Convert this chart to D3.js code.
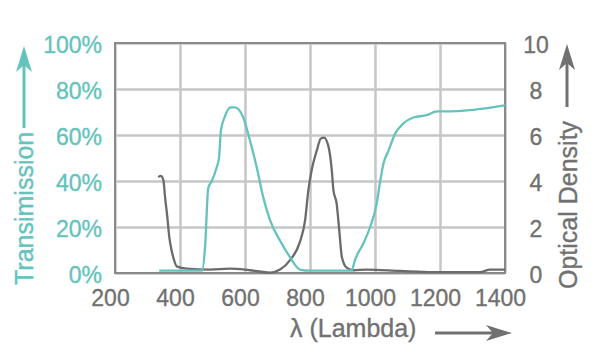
<!DOCTYPE html>
<html>
<head>
<meta charset="utf-8">
<script src="https://cdn.jsdelivr.net/npm/d3@7"></script>
<style>
  html, body { margin: 0; padding: 0; background: #fff; }
  svg { display: block; font-family: "Liberation Sans", Arial, sans-serif; }
</style>
</head>
<body>
<svg id="chart" width="600" height="360"></svg>
<script>
// ---- data ----
const xTicks = [200, 400, 600, 800, 1000, 1200, 1400];
const transTicks = [0, 20, 40, 60, 80, 100];
const odTicks = [0, 2, 4, 6, 8, 10];

const transWavelength = [336, 400, 468, 477, 487, 498, 513, 520, 526, 538, 556, 569, 595, 615, 636, 656, 677, 708, 738, 769, 800, 850, 900, 928, 938, 964, 985, 1005, 1015, 1026, 1041, 1062, 1087, 1118, 1159, 1190, 1231, 1282, 1333, 1400];
const transmission   = [1, 1, 1, 11, 37, 40, 46, 50, 62, 68, 72, 72, 67.5, 57.7, 46, 33, 23, 14, 7, 1.5, 1, 1, 1, 1, 5.5, 12.8, 20, 30, 39, 47.6, 53, 60.6, 65, 67.6, 68.6, 70.3, 70.3, 70.7, 71.5, 72.9];

const odWavelength = [333, 341, 349, 354, 361, 367, 374, 382, 390, 421, 492, 554, 615, 677, 708, 738, 769, 785, 795, 805, 821, 833, 843, 856, 867, 872, 882, 890, 898, 913, 933, 974, 1077, 1179, 1323, 1354, 1400];
const opticalDensity = [4.17, 4.22, 4.03, 3.3, 2.43, 1.57, 0.99, 0.55, 0.29, 0.19, 0.15, 0.19, 0.12, 0.02, 0.15, 0.55, 1.35, 2.3, 3.6, 4.47, 5.33, 5.84, 5.89, 5.55, 4.47, 3.6, 3.02, 1.86, 0.7, 0.23, 0.12, 0.15, 0.09, 0.04, 0.04, 0.15, 0.15];

// ---- layout ----
const teal = "#64c3bd";
const grayText = "#717171";
const margin = { left: 115, top: 43, right: 95, bottom: 87 };
const W = 600, H = 360;
const innerW = W - margin.left - margin.right;
const innerH = H - margin.top - margin.bottom;

const svg = d3.select("#chart");
const g = svg.append("g").attr("transform", `translate(${margin.left},${margin.top})`);

const x = d3.scaleLinear().domain([200, 1400]).range([0, innerW]);
const yT = d3.scaleLinear().domain([0, 100]).range([innerH, 0]);
const yOD = d3.scaleLinear().domain([0, 10]).range([innerH, 0]);

// gridlines
g.append("g").attr("class", "gridx")
  .attr("transform", `translate(0,${innerH})`)
  .call(d3.axisBottom(x).tickValues(xTicks).tickSize(-innerH).tickFormat(""))
  .call(s => s.select(".domain").remove())
  .call(s => s.selectAll("line").attr("stroke", "#c6c6c6").attr("stroke-width", 2.5));
g.append("g").attr("class", "gridy")
  .call(d3.axisLeft(yT).tickValues(transTicks).tickSize(-innerW).tickFormat(""))
  .call(s => s.select(".domain").remove())
  .call(s => s.selectAll("line").attr("stroke", "#c6c6c6").attr("stroke-width", 2.5));

// frame
g.append("rect").attr("x", 0).attr("y", 0).attr("width", innerW).attr("height", innerH)
  .attr("fill", "none").attr("stroke", "#8a8a8a").attr("stroke-width", 2);

// axes labels
const xAxis = g.append("g")
  .attr("transform", `translate(0,${innerH})`)
  .call(d3.axisBottom(x).tickValues(xTicks).tickSize(0).tickPadding(0).tickFormat(d3.format("d")));
xAxis.select(".domain").remove();
xAxis.selectAll("text").attr("fill", grayText).attr("stroke", grayText).attr("stroke-width", 0.35)
  .attr("font-size", 23).attr("dx", -5).attr("y", 17).attr("dy", "0.71em");

const yAxisL = g.append("g")
  .call(d3.axisLeft(yT).tickValues(transTicks).tickSize(0).tickPadding(13).tickFormat(d => d + "%"));
yAxisL.select(".domain").remove();
yAxisL.selectAll("text").attr("fill", teal).attr("stroke", teal).attr("stroke-width", 0.35)
  .attr("font-size", 23).attr("dy", "0.42em");

const yAxisR = g.append("g")
  .attr("transform", `translate(${innerW},0)`)
  .call(d3.axisRight(yOD).tickValues(odTicks).tickSize(0).tickPadding(31).tickFormat(d3.format("d")));
yAxisR.select(".domain").remove();
yAxisR.selectAll("text").attr("fill", grayText).attr("stroke", grayText).attr("stroke-width", 0.35)
  .attr("font-size", 23).attr("dy", "0.42em").attr("text-anchor", "middle");

// curves
const lineT = d3.line().x((d, i) => x(transWavelength[i])).y(d => yT(d)).curve(d3.curveMonotoneX);
const lineOD = d3.line().x((d, i) => x(odWavelength[i])).y(d => yOD(d)).curve(d3.curveMonotoneX);

g.append("path").datum(opticalDensity).attr("d", lineOD)
  .attr("fill", "none").attr("stroke", "#6b6b6b").attr("stroke-width", 2.3).attr("stroke-linejoin", "round");
g.append("path").datum(transmission).attr("d", lineT)
  .attr("fill", "none").attr("stroke", teal).attr("stroke-width", 2.3).attr("stroke-linejoin", "round");

// axis titles with arrows
function arrowHead(color, tx, ty, angle) {
  svg.append("path")
    .attr("d", "M0,0 L-26,-8 L-19,0 L-26,8 Z")
    .attr("transform", `translate(${tx},${ty}) rotate(${angle})`)
    .attr("fill", color);
}

// left title
svg.append("text").text("Transimission")
  .attr("transform", "translate(33,285) rotate(-90)")
  .attr("fill", teal).attr("stroke", teal).attr("stroke-width", 0.35).attr("font-size", 25);
svg.append("line").attr("x1", 24).attr("x2", 24).attr("y1", 128).attr("y2", 60)
  .attr("stroke", teal).attr("stroke-width", 3);
arrowHead(teal, 24, 46, -90);

// right title
svg.append("text").text("Optical Density")
  .attr("transform", "translate(577,289) rotate(-90)")
  .attr("fill", grayText).attr("stroke", grayText).attr("stroke-width", 0.35).attr("font-size", 25);
svg.append("line").attr("x1", 567).attr("x2", 567).attr("y1", 107).attr("y2", 58)
  .attr("stroke", grayText).attr("stroke-width", 3);
arrowHead(grayText, 567, 44, -90);

// bottom title
svg.append("text").text("λ (Lambda)")
  .attr("x", 290).attr("y", 337)
  .attr("fill", grayText).attr("stroke", grayText).attr("stroke-width", 0.35).attr("font-size", 25);
svg.append("line").attr("x1", 435).attr("x2", 498).attr("y1", 333).attr("y2", 333)
  .attr("stroke", grayText).attr("stroke-width", 3);
arrowHead(grayText, 512, 333, 0);
</script>
</body>
</html>
